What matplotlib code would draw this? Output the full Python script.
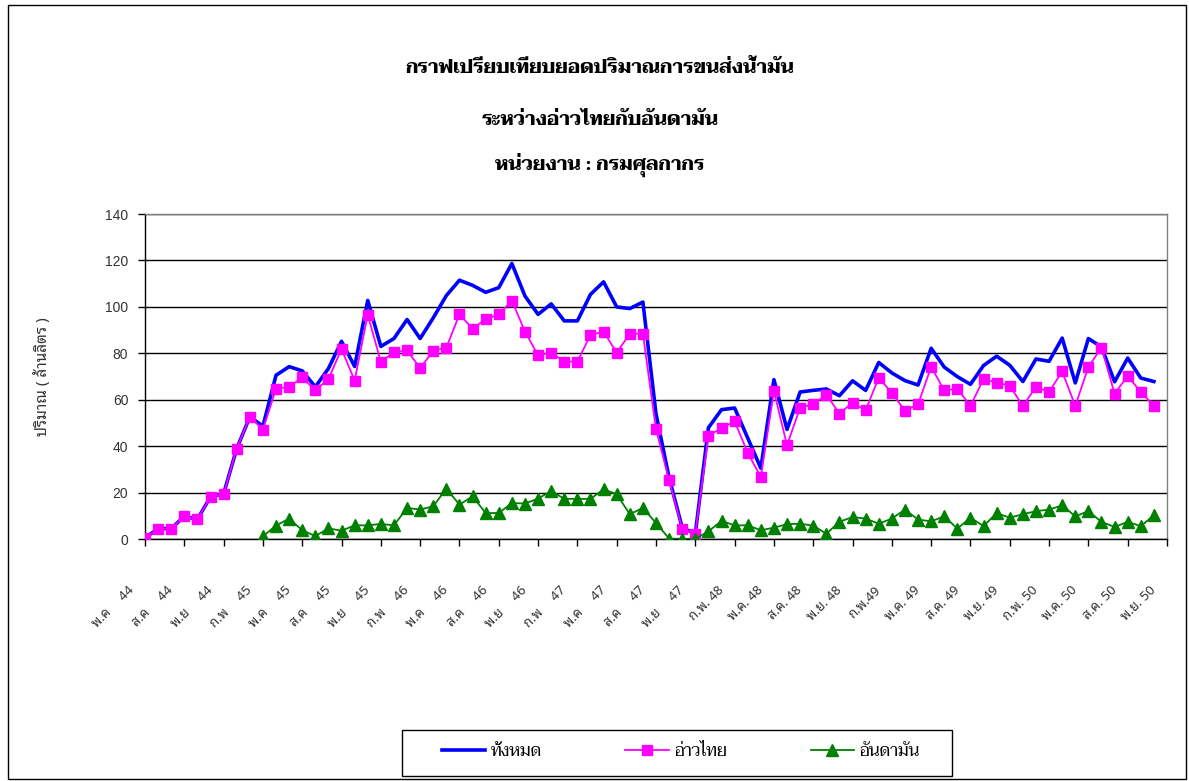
import numpy as np
import matplotlib
matplotlib.use("Agg")
import matplotlib.pyplot as plt
from matplotlib.patches import Rectangle
from matplotlib.transforms import ScaledTranslation

# ---------------- data ----------------
tick_labels = ["พ.ค     44", "ส.ค     44", "พ.ย     44", "ก.พ     45", "พ.ค     45", "ส.ค     45",
               "พ.ย     45", "ก.พ     46", "พ.ค     46", "ส.ค     46", "พ.ย     46", "ก.พ     47",
               "พ.ค     47", "ส.ค     47", "พ.ย     47", "ก.พ. 48", "พ.ค. 48", "ส.ค. 48",
               "พ.ย. 48", "ก.พ.49", "พ.ค. 49", "ส.ค. 49", "พ.ย. 49", "ก.พ. 50", "พ.ค. 50",
               "ส.ค. 50", "พ.ย. 50"]

total = [0.6, 4.6, 4.6, 9.9, 8.6, 18.3, 19.6, 39.0, 52.7, 48.7,
         70.6, 74.3, 72.5, 65.6, 73.5, 85.2, 74.4, 102.8, 83.0, 86.4,
         94.6, 86.4, 95.3, 104.9, 111.5, 109.3, 106.3, 108.3, 118.7, 104.7,
         96.8, 101.3, 94.0, 94.0, 105.4, 110.8, 100.0, 99.3, 102.1, 54.0,
         26.5, 5.0, 2.4, 48.0, 55.8, 56.5, 43.6, 30.6, 68.7, 47.3,
         63.4, 64.1, 64.7, 61.8, 68.2, 64.1, 76.1, 71.6, 68.3, 66.4,
         82.2, 74.1, 70.0, 66.7, 74.8, 78.8, 74.9, 67.9, 77.6, 76.6,
         86.6, 67.3, 86.4, 82.8, 67.8, 78.0, 69.4, 67.9, None]

gulf = [0.6, 4.6, 4.6, 9.9, 8.6, 18.1, 19.4, 39.0, 52.7, 47.2,
        64.8, 65.6, 69.7, 64.1, 69.0, 81.9, 68.3, 96.7, 76.3, 80.5,
        81.3, 73.7, 81.1, 82.5, 96.8, 90.7, 94.7, 96.8, 102.7, 89.4,
        79.2, 80.3, 76.5, 76.5, 87.9, 89.4, 80.3, 88.5, 88.5, 47.3,
        25.4, 4.6, 2.4, 44.5, 47.9, 50.8, 37.2, 26.8, 63.7, 40.5,
        56.7, 58.1, 62.3, 54.1, 58.8, 55.5, 69.6, 63.0, 55.3, 58.1,
        74.2, 64.1, 64.8, 57.4, 69.0, 67.4, 66.1, 57.4, 65.6, 63.4,
        72.3, 57.4, 74.2, 82.5, 62.7, 70.3, 63.4, 57.4, None]

andaman = [None, None, None, None, None, None, None, None, None, 1.3,
           5.9, 8.9, 3.9, 1.4, 4.7, 3.7, 6.0, 6.0, 6.6, 6.0,
           13.5, 12.8, 14.2, 21.8, 14.9, 18.5, 11.3, 11.3, 15.6, 15.4,
           17.5, 20.8, 17.4, 17.4, 17.4, 21.5, 19.4, 10.8, 13.5, 7.0,
           0.3, 0.2, 0.2, 3.4, 7.9, 6.0, 6.0, 3.9, 5.0, 6.5,
           6.7, 5.9, 2.4, 7.5, 9.6, 8.9, 6.7, 8.9, 12.8, 8.5,
           7.7, 9.9, 4.6, 9.3, 5.7, 11.3, 9.3, 10.8, 12.1, 12.8,
           14.6, 9.9, 12.1, 7.5, 5.3, 7.5, 5.7, 10.3, None]

series_names = ["ทั้งหมด", "อ่าวไทย", "อันดามัน"]
title_lines = ["กราฟเปรียบเทียบยอดปริมาณการขนส่งน้ำมัน", "ระหว่างอ่าวไทยกับอันดามัน",
               "หน่วยงาน : กรมศุลกากร"]
y_label = "ปริมาณ ( ล้านลิตร )"

# ---------------- fonts ----------------
SERIF = ["Taviraj", "Noto Serif Thai", "DejaVu Sans"]
SANS = ["Noto Sans Thai Looped", "Noto Sans Thai", "DejaVu Sans"]
NUM = ["Liberation Sans", "DejaVu Sans"]

# ---------------- figure ----------------
W, H = 1189, 781
fig = plt.figure(figsize=(W / 100, H / 100), dpi=100)
fig.patch.set_facecolor("white")


def fx(px):
    return px / W


def fy(py):
    return 1 - py / H


ax = fig.add_axes([fx(145), fy(539.3), fx(1167) - fx(145), fy(214) - fy(539.3)])
x = np.arange(len(total))


def arr(v):
    return np.array([np.nan if a is None else a for a in v], dtype=float)


l1, = ax.plot(x, arr(total), color="#0000FF", lw=2.6, zorder=3)
l2, = ax.plot(x, arr(gulf), color="#FF00FF", lw=1.3, marker="s", ms=7, mec="#FF00FF",
              mfc="#FF00FF", zorder=4)
l3, = ax.plot(x, arr(andaman), color="#008000", lw=1.3, marker="^", ms=8, mec="#008000",
              mfc="#008000", zorder=4)

ax.set_xlim(0, len(total) - 1)
ax.set_ylim(0, 140)
ax.set_yticks(np.arange(0, 141, 20))
ax.yaxis.grid(True, color="#000000", lw=1.0)
ax.set_axisbelow(True)
xt = np.arange(0, len(total), 3)
ax.set_xticks(xt)
ax.set_xticklabels([])
ax.tick_params(axis="x", direction="out", length=5, width=1)
ax.tick_params(axis="y", direction="out", length=5, width=1, pad=7, labelsize=10,
               labelcolor="#333333")
for lab in ax.get_yticklabels():
    lab.set_family(NUM)
ax.spines["top"].set_color("#808080")
ax.spines["right"].set_color("#808080")
for s in ax.spines.values():
    s.set_linewidth(1.0)

# rotated category labels, anchored below each tick
off = ScaledTranslation(-0.13, -0.49, fig.dpi_scale_trans)
for pos, txt in zip(xt, tick_labels):
    ax.text(pos, 0, txt, transform=ax.get_xaxis_transform() + off, rotation=45,
            ha="right", va="center", rotation_mode="anchor", fontsize=9.5,
            family=SANS, color="#333333", clip_on=False)

fig.text(fx(43), fy(377), y_label, rotation=90, ha="center", va="center",
         fontsize=11, family=SANS, color="#333333")

# titles: fit first line width to the reference width
tt = []
for t, yb in zip(title_lines, [73, 125, 170]):
    tt.append(fig.text(fx(600), fy(yb), t, ha="center", va="baseline", fontsize=16,
                       fontweight="bold", family=SERIF))
fig.canvas.draw()
w0 = tt[0].get_window_extent().width
scale = 390.0 / w0
for t in tt:
    t.set_fontsize(16 * scale)

# legend frame + legend
fig.patches.append(Rectangle((fx(402), fy(776)), fx(952) - fx(402), fy(730) - fy(776),
                             transform=fig.transFigure, fill=False, edgecolor="black",
                             lw=1.0))
leg = fig.legend([l1, l2, l3], series_names, loc="center",
                 bbox_to_anchor=(fx(681), fy(752)), ncol=3,
                 prop={"family": SERIF, "size": 12}, frameon=False,
                 handlelength=2.6, handletextpad=0.35, columnspacing=5.0,
                 borderpad=0.2)

fig.patches.append(Rectangle((fx(8), fy(779)), fx(1186) - fx(8), fy(5) - fy(779),
                             transform=fig.transFigure, fill=False, edgecolor="black",
                             lw=1.0))

fig.savefig("out.png", dpi=100)
